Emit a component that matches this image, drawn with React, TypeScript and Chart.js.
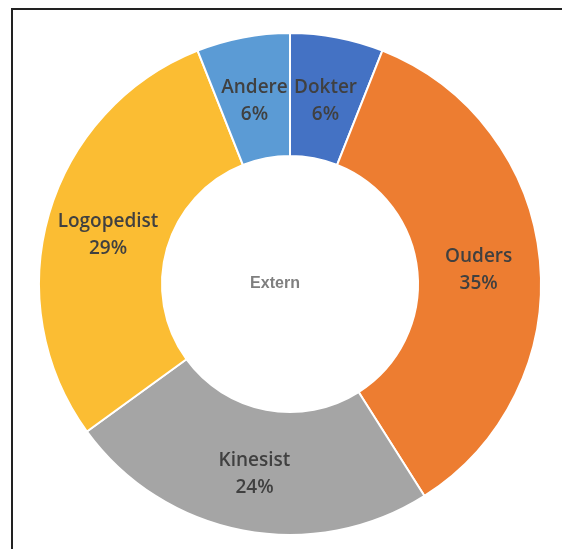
import React, { useEffect, useRef } from "react";
import { Chart, registerables } from "chart.js";

Chart.register(...registerables);

const categories = ["Dokter", "Ouders", "Kinesist", "Logopedist", "Andere"];
const values = [6, 35, 24, 29, 6];
const colors = ["#4472C4", "#ED7D31", "#A5A5A5", "#FBBD33", "#5B9BD5"];
const centerTitle = "Extern";

const labelPlugin = {
  id: "sliceLabels",
  afterDatasetsDraw(chart: any) {
    const ctx = chart.ctx;
    const meta = chart.getDatasetMeta(0);
    const data = chart.data.datasets[0].data as number[];
    const total = data.reduce((a, b) => a + b, 0);
    ctx.save();
    ctx.textAlign = "center";
    ctx.textBaseline = "middle";
    ctx.fillStyle = "#404040";
    ctx.font = "600 19px 'Open Sans'";
    meta.data.forEach((arc: any, i: number) => {
      const { x, y, startAngle, endAngle, innerRadius, outerRadius } = arc.getProps(
        ["x", "y", "startAngle", "endAngle", "innerRadius", "outerRadius"],
        true
      );
      const mid = (startAngle + endAngle) / 2;
      const r = (innerRadius + outerRadius) / 2;
      const cx = x + Math.cos(mid) * r;
      const cy = y + Math.sin(mid) * r;
      const pct = Math.round((data[i] / total) * 100) + "%";
      ctx.fillText(chart.data.labels[i], cx, cy - 10);
      ctx.fillText(pct, cx, cy + 17);
    });
    const first: any = meta.data[0];
    if (first) {
      ctx.font = "bold 16px 'Liberation Sans'";
      ctx.fillStyle = "#7F7F7F";
      ctx.fillText(centerTitle, first.x - 15, first.y);
    }
    ctx.restore();
  },
};

export default function App() {
  const ref = useRef<HTMLCanvasElement | null>(null);
  useEffect(() => {
    if (!ref.current) return;
    const chart = new Chart(ref.current, {
      type: "doughnut",
      data: {
        labels: categories,
        datasets: [
          {
            data: values,
            backgroundColor: colors,
            borderColor: "#FFFFFF",
            borderWidth: 2,
          },
        ],
      },
      options: {
        responsive: false,
        animation: false,
        cutout: "51%",
        layout: { padding: { left: 25, right: 12, top: 22, bottom: 5 } },
        plugins: {
          legend: { display: false },
          tooltip: { enabled: false },
        },
      },
      plugins: [labelPlugin],
    });
    return () => chart.destroy();
  }, []);

  return (
    <div style={{ marginLeft: 5, paddingTop: 2 }}>
      <div
        style={{
          position: "fixed",
          left: 11,
          top: 8,
          width: 700,
          height: 700,
          borderTop: "2px solid #222",
          borderLeft: "2px solid #222",
          pointerEvents: "none",
        }}
      />
      <canvas ref={ref} width={541} height={531} style={{ display: "block", width: 541, height: 531 }} />
    </div>
  );
}
